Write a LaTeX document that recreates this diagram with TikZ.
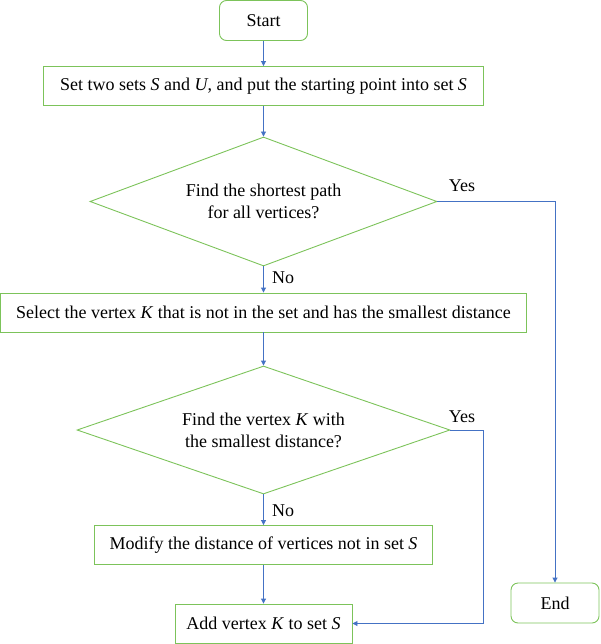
\documentclass[tikz,border=0pt]{standalone}
\usepackage{fontspec}
\setmainfont{Liberation Serif}
\usepackage{xcolor}
\usetikzlibrary{shapes.geometric}
\usetikzlibrary{arrows.meta}
\definecolor{boxgreen}{RGB}{124,195,90}
\definecolor{lineblue}{RGB}{68,114,196}
\tikzset{every node/.style={font=\fontsize{18}{22}\selectfont},
 stepbox/.style={draw=boxgreen,line width=0.9pt,rectangle,inner sep=0pt,minimum height=39pt},
 endbox/.style={stepbox,rounded corners=7pt,minimum width=88pt,minimum height=40pt},
 test/.style={draw=boxgreen,line width=0.9pt,diamond,inner sep=0pt,align=center,aspect=2.75},
 flow/.style={draw=lineblue,line width=0.9pt,-{Triangle[length=5pt,width=5pt]}},
 label/.style={inner sep=0pt},
 }
\newcommand{\var}[1]{\textit{#1}}

\begin{document}
\begin{tikzpicture}[x=1pt,y=-1pt]
        \useasboundingbox (0,0) rectangle (600,644);
        \node[endbox] (start) at (263.5,20.5) {Start};
        \node[stepbox,minimum width=440pt] (sets) at (263.5,86) {Set two sets \var{S} and \var{U}, and put the starting point into set \var{S}};
        \node[test,minimum width=347pt,minimum height=129pt] (allpaths) at (263.5,201.5) {Find the shortest path\\for all vertices?};
        \node[stepbox,minimum width=526pt] (select) at (263.5,312.5) {Select the vertex \var{K} that is not in the set and has the smallest distance};
        \node[test,minimum width=373pt,minimum height=128pt] (found) at (263.5,430) {Find the vertex \var{K} with\\the smallest distance?};
        \node[stepbox,minimum width=338pt] (modify) at (263.5,545) {Modify the distance of vertices not in set \var{S}};
        \node[stepbox,minimum width=177pt] (add) at (263.5,623.5) {Add vertex \var{K} to set \var{S}};
        \node[endbox] (finish) at (555,603) {End};
        \coordinate (yes1) at (555,201.5);
        \coordinate (yes2) at (483,430);
        \node[label] at (462,186) {Yes};
        \node[label] at (283,278) {No};
        \node[label] at (462,417) {Yes};
        \node[label] at (283,511) {No};
        \draw[flow] (start) -- (sets);
        \draw[flow] (sets) -- (allpaths);
        \draw[flow] (allpaths) -- (select);
        \draw[flow] (select) -- (found);
        \draw[flow] (found) -- (modify);
        \draw[flow] (modify) -- (add);
        \draw[flow] (allpaths.east) -- (yes1) -- (finish);
        \draw[flow] (found.east) -- (yes2) |- (add);
    \end{tikzpicture}
\end{document}
